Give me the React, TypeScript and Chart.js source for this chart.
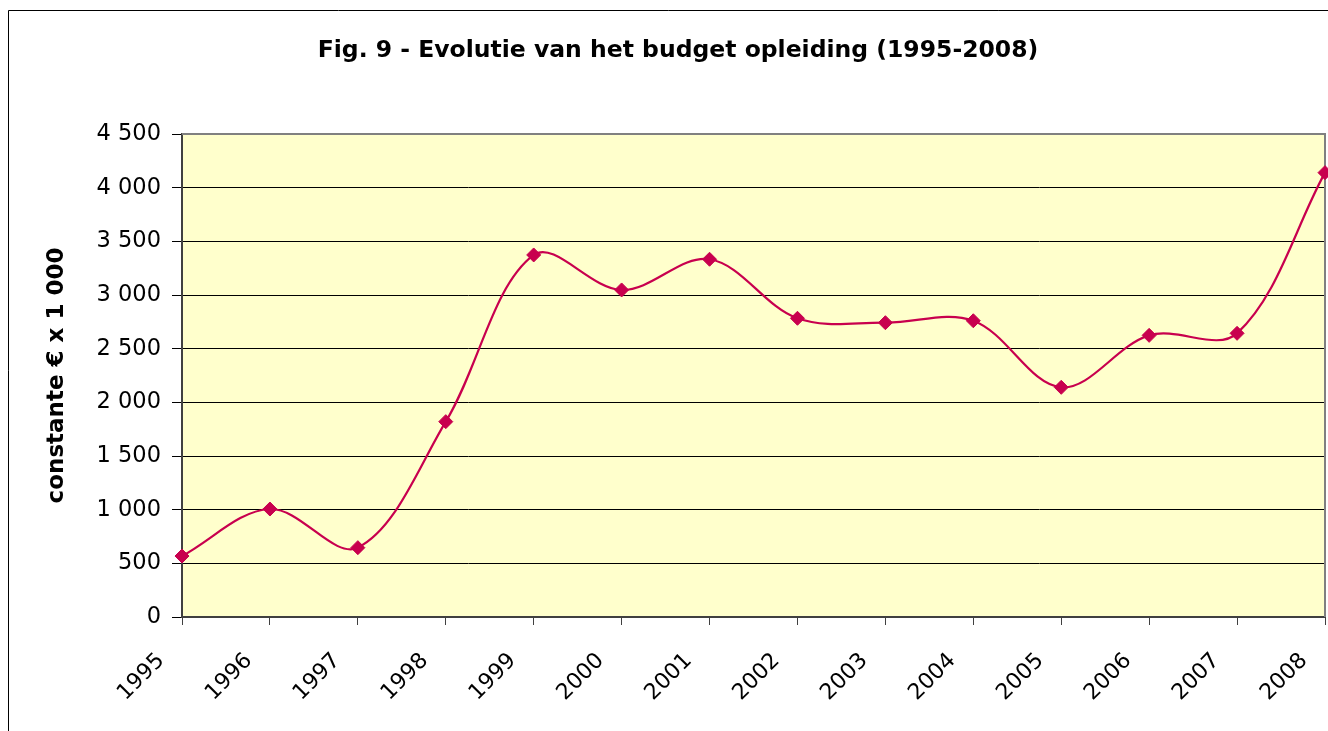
import React, { useEffect, useRef } from "react";
import { Chart, registerables } from "chart.js";

Chart.register(...registerables);

const chartTitle = "Fig. 9 - Evolutie van het budget opleiding (1995-2008)";
const yAxisTitle = "constante € x 1 000";
const years = ["1995", "1996", "1997", "1998", "1999", "2000", "2001", "2002", "2003", "2004", "2005", "2006", "2007", "2008"];
const budget = [568, 1006, 646, 1820, 3373, 3047, 3333, 2783, 2742, 2760, 2140, 2624, 2643, 4140];
const yMin = 0;
const yMax = 4500;
const yStep = 500;

const LINE_COLOR = "#C8004E";
const PLOT_BG = "#FFFFCC";

function formatThousands(v: number): string {
  const n = Math.round(v);
  if (n < 1000) return String(n);
  const thousands = Math.floor(n / 1000);
  const rest = String(n % 1000).padStart(3, "0");
  return `${thousands} ${rest}`;
}

const framePlugin = {
  id: "frameAndBackground",
  beforeDraw(chart: any) {
    const { ctx, chartArea } = chart;
    ctx.save();
    ctx.fillStyle = "#ffffff";
    ctx.fillRect(0, 0, chart.width, chart.height);
    ctx.fillStyle = PLOT_BG;
    ctx.fillRect(chartArea.left, chartArea.top, chartArea.right - chartArea.left, chartArea.bottom - chartArea.top);
    // outer frame
    ctx.strokeStyle = "#000000";
    ctx.lineWidth = 1;
    ctx.beginPath();
    ctx.moveTo(8.5, chart.height);
    ctx.lineTo(8.5, 10.5);
    ctx.lineTo(chart.width, 10.5);
    ctx.stroke();
    ctx.restore();
  },
  beforeDatasetsDraw(chart: any) {
    const { ctx, chartArea } = chart;
    ctx.save();
    ctx.strokeStyle = "#808080";
    ctx.lineWidth = 2;
    ctx.beginPath();
    ctx.moveTo(chartArea.left, chartArea.top);
    ctx.lineTo(chartArea.right, chartArea.top);
    ctx.lineTo(chartArea.right, chartArea.bottom);
    ctx.stroke();
    ctx.restore();
  },
};

export default function App() {
  const canvasRef = useRef<HTMLCanvasElement | null>(null);

  useEffect(() => {
    if (!canvasRef.current) return;
    const chart = new Chart(canvasRef.current, {
      type: "line",
      data: {
        labels: years,
        datasets: [
          {
            data: budget,
            borderColor: LINE_COLOR,
            backgroundColor: LINE_COLOR,
            borderWidth: 2.2,
            pointStyle: "rectRot",
            pointRadius: 7,
            pointBackgroundColor: LINE_COLOR,
            pointBorderColor: LINE_COLOR,
            pointBorderWidth: 1,
            tension: 0.35,
            fill: false,
            clip: false as any,
          },
        ],
      },
      options: {
        animation: false,
        responsive: false,
        devicePixelRatio: 1,
        layout: { autoPadding: false, padding: { left: 31, right: 3, top: 0, bottom: 0 } },
        plugins: {
          legend: { display: false },
          tooltip: { enabled: false },
          title: {
            display: true,
            text: chartTitle,
            color: "#000000",
            font: { family: "'DejaVu Sans'", size: 23.5, weight: "bold", lineHeight: 1.2 },
            padding: { top: 36.5, bottom: 69.3 },
          },
        },
        scales: {
          x: {
            type: "category",
            offset: false,
            grid: {
              display: true,
              drawOnChartArea: false,
              tickLength: 8,
              color: "#404040",
              offset: false,
            },
            border: { display: true, color: "#404040", width: 2 },
            ticks: {
              autoSkip: false,
              minRotation: 45,
              maxRotation: 45,
              padding: 23,
              labelOffset: -21,
              color: "#000000",
              font: { family: "'DejaVu Sans'", size: 22 },
            },
            afterFit(scale: any) {
              scale.height = 114;
              scale.paddingLeft = 0;
              scale.paddingRight = 0;
            },
          },
          y: {
            type: "linear",
            min: yMin,
            max: yMax,
            grid: { color: "#000000", lineWidth: 1, tickLength: 10 },
            border: { display: true, color: "#404040", width: 2 },
            ticks: {
              stepSize: yStep,
              padding: 11,
              color: "#000000",
              font: { family: "'DejaVu Sans'", size: 22.5 },
              callback: (v: any) => formatThousands(Number(v)),
            },
            title: {
              display: true,
              text: yAxisTitle,
              color: "#000000",
              font: { family: "'DejaVu Sans'", size: 23, weight: "bold", lineHeight: 1.2 },
              padding: { top: 12, bottom: 0 },
            },
            afterFit(scale: any) {
              scale.width = 151;
              scale.paddingTop = 0;
              scale.paddingBottom = 0;
            },
          },
        },
      } as any,
      plugins: [framePlugin],
    });
    return () => chart.destroy();
  }, []);

  return (
    <div style={{ position: "absolute", left: 0, top: 0, width: 1328, height: 731, background: "#fff" }}>
      <canvas ref={canvasRef} width={1328} height={731} style={{ display: "block", width: 1328, height: 731 }} />
    </div>
  );
}
